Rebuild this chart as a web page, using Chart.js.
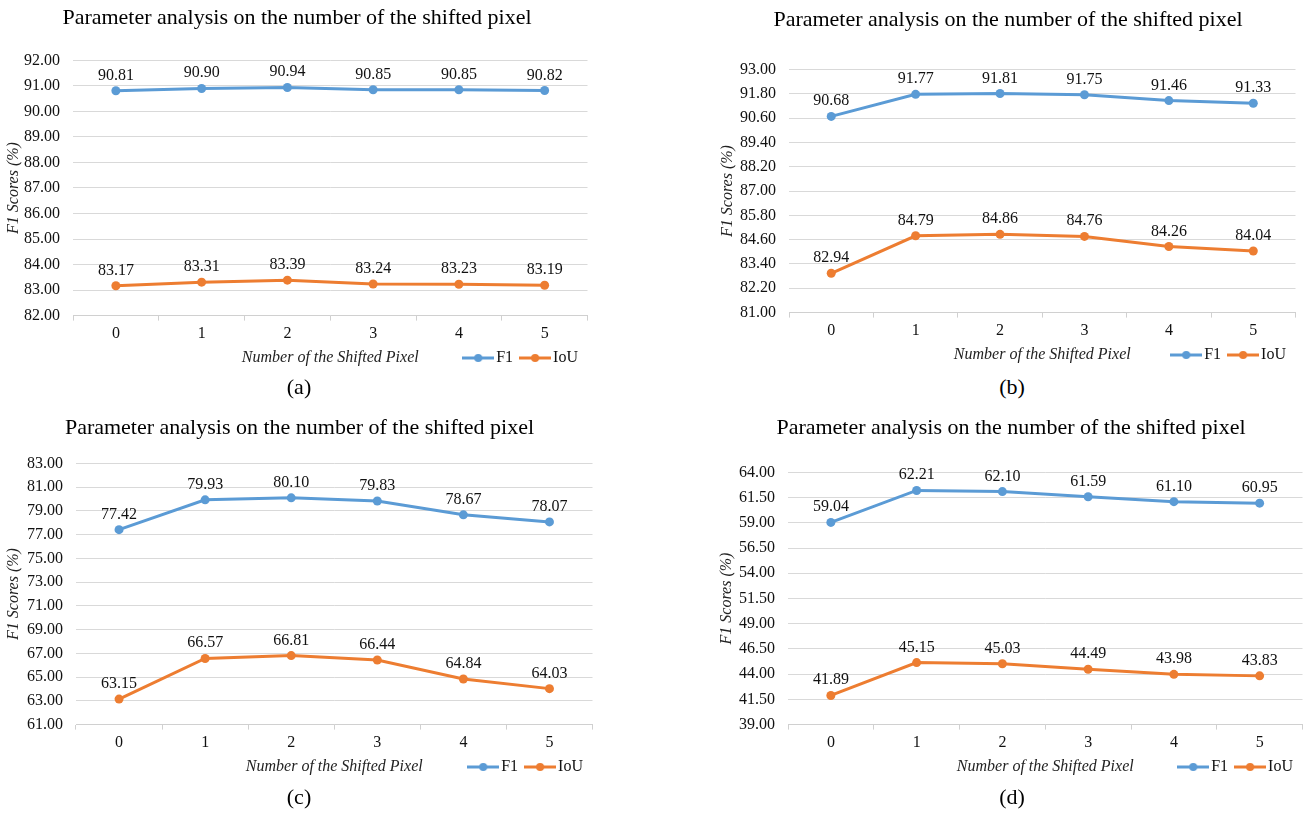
<!DOCTYPE html>
<html>
<head>
<meta charset="utf-8">
<script src="https://cdn.jsdelivr.net/npm/chart.js@4.4.1/dist/chart.umd.min.js"></script>
<style>
  body { margin: 0; background: #fff; width: 1307px; height: 813px; position: relative; overflow: hidden; font-family: "Liberation Serif", serif; }
  .panel { position: absolute; }
  .cap { position: absolute; font-size: 22px; color: #000; transform: translate(-50%, -50%); }
</style>
</head>
<body>
<div class="panel" style="left:0;top:0;width:592px;height:376px"><canvas id="chartA"></canvas></div>
<div class="panel" style="left:714px;top:0;width:586px;height:373px"><canvas id="chartB"></canvas></div>
<div class="panel" style="left:0;top:405px;width:597px;height:380px"><canvas id="chartC"></canvas></div>
<div class="panel" style="left:713px;top:405px;width:594px;height:380px"><canvas id="chartD"></canvas></div>
<div class="cap" style="left:299px;top:387px">(a)</div>
<div class="cap" style="left:1012px;top:387px">(b)</div>
<div class="cap" style="left:299px;top:797px">(c)</div>
<div class="cap" style="left:1012px;top:797px">(d)</div>
<script>
// data
const shifts = ['0', '1', '2', '3', '4', '5'];

const f1A = [90.81, 90.90, 90.94, 90.85, 90.85, 90.82];
const iouA = [83.17, 83.31, 83.39, 83.24, 83.23, 83.19];
const ticksA = [82.00, 83.00, 84.00, 85.00, 86.00, 87.00, 88.00, 89.00, 90.00, 91.00, 92.00];

const f1B = [90.68, 91.77, 91.81, 91.75, 91.46, 91.33];
const iouB = [82.94, 84.79, 84.86, 84.76, 84.26, 84.04];
const ticksB = [81.00, 82.20, 83.40, 84.60, 85.80, 87.00, 88.20, 89.40, 90.60, 91.80, 93.00];

const f1C = [77.42, 79.93, 80.10, 79.83, 78.67, 78.07];
const iouC = [63.15, 66.57, 66.81, 66.44, 64.84, 64.03];
const ticksC = [61.00, 63.00, 65.00, 67.00, 69.00, 71.00, 73.00, 75.00, 77.00, 79.00, 81.00, 83.00];

const f1D = [59.04, 62.21, 62.10, 61.59, 61.10, 60.95];
const iouD = [41.89, 45.15, 45.03, 44.49, 43.98, 43.83];
const ticksD = [39.00, 41.50, 44.00, 46.50, 49.00, 51.50, 54.00, 56.50, 59.00, 61.50, 64.00];

const TITLE = 'Parameter analysis on the number of the shifted pixel';
const SERIF = '"Liberation Serif", "Times New Roman", serif';
const BLUE = '#5b9bd5';
const ORANGE = '#ed7d31';

// line + dot icon for the legend, like the excel one
function legendIcon(color) {
    let c = document.createElement('canvas');
    c.width = 32;
    c.height = 10;
    let g = c.getContext('2d');
    g.strokeStyle = color;
    g.lineWidth = 3;
    g.beginPath();
    g.moveTo(0, 5);
    g.lineTo(32, 5);
    g.stroke();
    g.fillStyle = color;
    g.beginPath();
    g.arc(16, 5, 4, 0, Math.PI * 2);
    g.fill();
    return c;
}

// value labels above each point
const valueLabels = {
    id: 'valueLabels',
    afterDatasetsDraw(chart) {
        let ctx = chart.ctx;
        ctx.save();
        ctx.font = '16px ' + SERIF;
        ctx.fillStyle = '#111';
        ctx.textAlign = 'center';
        ctx.textBaseline = 'alphabetic';
        chart.data.datasets.forEach((ds, i) => {
            chart.getDatasetMeta(i).data.forEach((pt, j) => {
                ctx.fillText(ds.data[j].toFixed(2), pt.x, pt.y - 11);
            });
        });
        ctx.restore();
    }
};

function buildChart(id, f1, iou, yTicks, lay) {
    return new Chart(document.getElementById(id), {
        type: 'line',
        data: {
            labels: shifts,
            datasets: [
                { label: 'F1', data: f1, borderColor: BLUE, backgroundColor: BLUE, borderWidth: 3, pointRadius: 4.5, pointHoverRadius: 4.5, pointBorderWidth: 0, tension: 0 },
                { label: 'IoU', data: iou, borderColor: ORANGE, backgroundColor: ORANGE, borderWidth: 3, pointRadius: 4.5, pointHoverRadius: 4.5, pointBorderWidth: 0, tension: 0 }
            ]
        },
        options: {
            responsive: true,
            maintainAspectRatio: false,
            animation: false,
            layout: { padding: { left: 4, right: 2, top: 0, bottom: 0 } },
            plugins: {
                title: {
                    display: true,
                    text: TITLE,
                    color: '#000',
                    font: { family: SERIF, size: 22, weight: 'normal' },
                    padding: { top: lay.tTop, bottom: lay.tBottom }
                },
                legend: {
                    position: 'bottom',
                    align: 'end',
                    labels: {
                        usePointStyle: true,
                        pointStyleWidth: 20,
                        padding: 12,
                        color: '#111',
                        font: { family: SERIF, size: 16 },
                        generateLabels(chart) {
                            let items = Chart.defaults.plugins.legend.labels.generateLabels(chart);
                            items.forEach((it, i) => { it.pointStyle = legendIcon(chart.data.datasets[i].borderColor); });
                            return items;
                        }
                    }
                },
                tooltip: { enabled: false }
            },
            scales: {
                x: {
                    offset: true,
                    grid: { offset: true, drawOnChartArea: false, color: '#d0d0d0', tickLength: 5 },
                    border: { color: '#d0d0d0' },
                    ticks: { padding: 4, color: '#111', font: { family: SERIF, size: 16 } },
                    title: {
                        display: true,
                        text: 'Number of the Shifted Pixel',
                        color: '#222',
                        font: { family: SERIF, size: 16, style: 'italic' },
                        padding: { top: 0, bottom: -29 }
                    }
                },
                y: {
                    min: yTicks[0],
                    max: yTicks[yTicks.length - 1],
                    afterBuildTicks: s => { s.ticks = yTicks.map(v => ({ value: v })); },
                    afterFit: s => { s.width = lay.axisW; },
                    grid: { color: '#d9d9d9', drawTicks: false },
                    border: { display: false },
                    ticks: { padding: 13, autoSkip: false, color: '#111', font: { family: SERIF, size: 16 }, callback: v => Number(v).toFixed(2) },
                    title: {
                        display: true,
                        text: 'F1 Scores (%)',
                        color: '#222',
                        font: { family: SERIF, size: 16, style: 'italic' },
                        padding: 0
                    }
                }
            }
        },
        plugins: [valueLabels]
    });
}

buildChart('chartA', f1A, iouA, ticksA, { tTop: 5, tBottom: 29, axisW: 69 });
buildChart('chartB', f1B, iouB, ticksB, { tTop: 7, tBottom: 36, axisW: 71 });
buildChart('chartC', f1C, iouC, ticksC, { tTop: 10, tBottom: 22, axisW: 72 });
buildChart('chartD', f1D, iouD, ticksD, { tTop: 10, tBottom: 31, axisW: 71 });
</script>
</body>
</html>
